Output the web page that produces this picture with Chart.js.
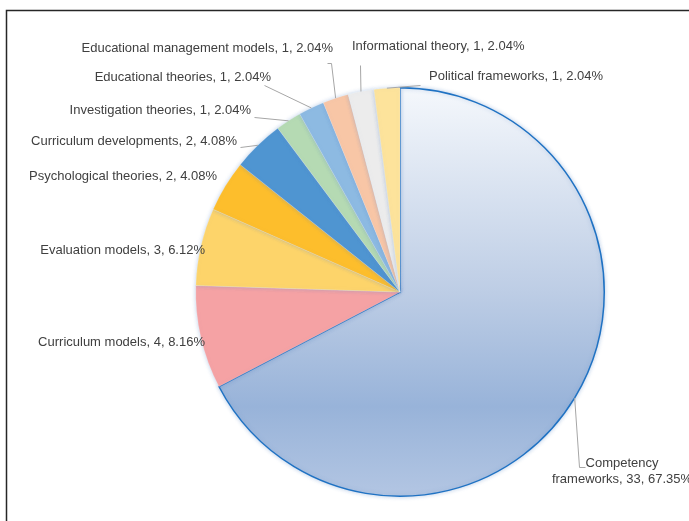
<!DOCTYPE html>
<html>
<head>
<meta charset="utf-8">
<script src="https://cdn.jsdelivr.net/npm/chart.js@4.4.1/dist/chart.umd.min.js"></script>
<style>
  html, body { margin: 0; padding: 0; background: #fff; overflow: hidden; }
  canvas { display: block; }
</style>
</head>
<body>
<canvas id="pie" width="689" height="521"></canvas>
<script>
// ── DATA ──
const categories = [
  'Competency frameworks',
  'Curriculum models',
  'Evaluation models',
  'Psychological theories',
  'Curriculum developments',
  'Investigation theories',
  'Educational theories',
  'Educational management models',
  'Informational theory',
  'Political frameworks'
];
const counts = [33, 4, 3, 2, 2, 1, 1, 1, 1, 1];

const sliceColors = ['#a9bfe0', '#f5a2a4', '#fdd46a', '#fdbe2c', '#4f95d1',
                     '#b5dab3', '#8dbae2', '#f8c6a6', '#ececec', '#fde39b'];

const total = counts.reduce((a, b) => a + b, 0);
const labelText = i => `${categories[i]}, ${counts[i]}, ${(counts[i] / total * 100).toFixed(2)}%`;

// ── LABEL LAYOUT ── text anchor + leader path (edge point is taken from the arc)
const labelLayout = [
  { lines: ['Competency', 'frameworks, 33, 67.35%'], x: 622, y: 463, align: 'center', leader: [[579, 467], [585, 467]] },
  { x: 205, y: 342, align: 'right' },
  { x: 205, y: 250, align: 'right' },
  { x: 217, y: 176, align: 'right' },
  { x: 237, y: 141, align: 'right', leader: [[240, 147]] },
  { x: 251, y: 110, align: 'right', leader: [[254, 117]] },
  { x: 271, y: 77, align: 'right', leader: [[264, 85]] },
  { x: 333, y: 48, align: 'right', leader: [[331, 63], [327, 63]] },
  { x: 352, y: 46, align: 'left', leader: [[360, 65]] },
  { x: 429, y: 76, align: 'left', leader: [[420, 85]] }
];

// frame lines (top + left)
const framePlugin = {
  id: 'frame',
  beforeDraw(chart) {
    const ctx = chart.ctx;
    ctx.save();
    ctx.strokeStyle = '#262626';
    ctx.lineWidth = 1.5;
    ctx.beginPath();
    ctx.moveTo(689, 10.5);
    ctx.lineTo(6.5, 10.5);
    ctx.lineTo(6.5, 521);
    ctx.stroke();
    ctx.restore();
  }
};

// soft glow round the slices
const glowPlugin = {
  id: 'glow',
  beforeDatasetsDraw(chart) {
    const ctx = chart.ctx;
    ctx.save();
    ctx.shadowColor = 'rgba(110,150,205,0.45)';
    ctx.shadowBlur = 4;
  },
  afterDatasetsDraw(chart) {
    chart.ctx.restore();
  }
};

// data labels with leader lines
const labelPlugin = {
  id: 'sliceLabels',
  afterDatasetsDraw(chart) {
    const ctx = chart.ctx;
    const arcs = chart.getDatasetMeta(0).data;
    ctx.save();
    ctx.font = '13px "Liberation Sans", Arial, sans-serif';
    ctx.fillStyle = '#404040';
    ctx.textBaseline = 'middle';
    arcs.forEach((arc, i) => {
      const L = labelLayout[i];
      const { x, y, startAngle, endAngle, outerRadius } = arc.getProps(['x', 'y', 'startAngle', 'endAngle', 'outerRadius'], true);
      const mid = (startAngle + endAngle) / 2;
      const ex = x + Math.cos(mid) * outerRadius;
      const ey = y + Math.sin(mid) * outerRadius;
      if (L.leader) {
        ctx.strokeStyle = '#a6a6a6';
        ctx.lineWidth = 1;
        ctx.beginPath();
        ctx.moveTo(ex, ey);
        L.leader.forEach(p => ctx.lineTo(p[0] + 0.5, p[1] + 0.5));
        ctx.stroke();
      }
      ctx.textAlign = L.align;
      const lines = L.lines || [labelText(i)];
      lines.forEach((t, k) => ctx.fillText(t, L.x, L.y + k * 16));
    });
    ctx.restore();
  }
};

function sliceFill(c) {
  if (c.dataIndex !== 0) return sliceColors[c.dataIndex];
  const area = c.chart.chartArea;
  if (!area) return sliceColors[0];
  const g = c.chart.ctx.createLinearGradient(0, area.top, 0, area.bottom);
  g.addColorStop(0, '#f5f8fc');
  g.addColorStop(0.5, '#bdcde5');
  g.addColorStop(0.78, '#98b3d9');
  g.addColorStop(1, '#b3c6e3');
  return g;
}

new Chart(document.getElementById('pie'), {
  type: 'pie',
  data: {
    labels: categories,
    datasets: [{
      data: counts,
      backgroundColor: sliceFill,
      borderColor: counts.map((_, i) => i === 0 ? '#1f72c3' : 'rgba(255,255,255,0.35)'),
      borderWidth: counts.map((_, i) => i === 0 ? 1.5 : 0.5)
    }]
  },
  options: {
    responsive: false,
    animation: false,
    layout: { padding: { left: 195, right: 84, top: 87, bottom: 24 } },
    plugins: { legend: { display: false }, tooltip: { enabled: false } }
  },
  plugins: [framePlugin, glowPlugin, labelPlugin]
});
</script>
</body>
</html>
